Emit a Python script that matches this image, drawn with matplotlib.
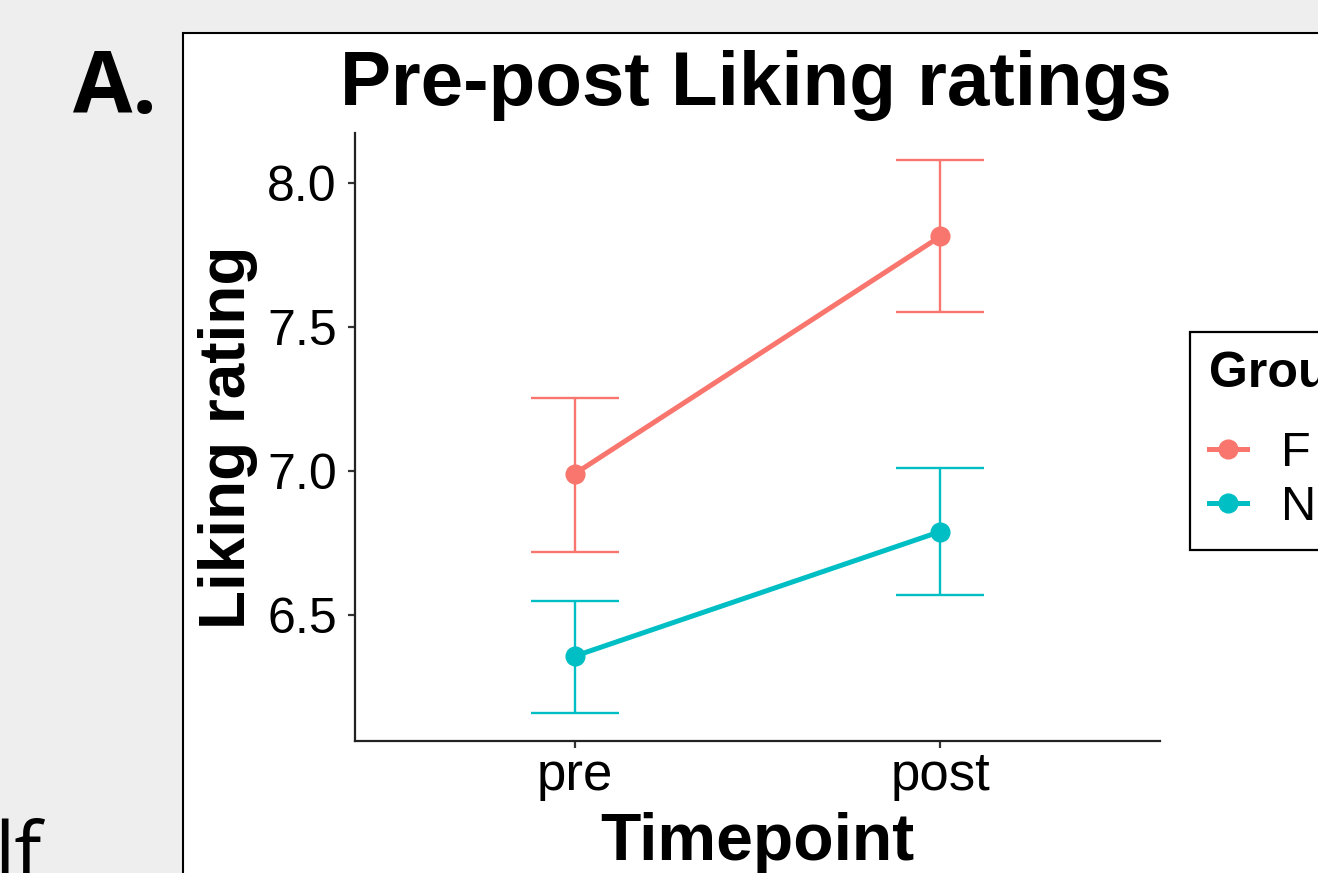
import matplotlib.pyplot as plt
from matplotlib.patches import Rectangle
from matplotlib.lines import Line2D

# data
timepoints = ['pre', 'post']
groups = ['F', 'N']
colors = ['#F8766D', '#00BFC4']
f_mean = [6.99, 7.815]
f_lower = [6.72, 7.552]
f_upper = [7.253, 8.08]
n_mean = [6.357, 6.79]
n_lower = [6.16, 6.57]
n_upper = [6.549, 7.01]

W, H = 1318, 873
fig = plt.figure(figsize=(W / 100, H / 100), dpi=100)
fig.patch.set_facecolor('#eeeeee')

# white slide panel behind the plot
fig.patches.append(Rectangle((183 / W, -0.2), 1.0, 1 - 33 / H + 0.2,
                             transform=fig.transFigure, facecolor='white',
                             edgecolor='black', linewidth=1.5, zorder=-5))

ax = fig.add_axes([355 / W, 1 - 741 / H, (1160 - 355) / W, (741 - 133) / H])
ax.set_facecolor('none')

x = list(range(1, len(timepoints) + 1))
series = [(f_mean, f_lower, f_upper), (n_mean, n_lower, n_upper)]
for (m, lo, hi), c in zip(series, colors):
    yerr = [[a - b for a, b in zip(m, lo)], [b - a for a, b in zip(m, hi)]]
    ax.errorbar(x, m, yerr=yerr, fmt='none', ecolor=c, elinewidth=1.7,
                capsize=32, capthick=1.7, zorder=2)
    ax.plot(x, m, color=c, lw=3.6, zorder=3)
    ax.plot(x, m, 'o', color=c, markersize=13.5, zorder=4)

ax.set_xlim(0.4, 2.6)
ax.set_ylim(6.0625, 8.174)
ax.set_xticks(x)
ax.set_xticklabels(timepoints)
ax.set_yticks([6.5, 7.0, 7.5, 8.0])
ax.set_yticklabels(['6.5', '7.0', '7.5', '8.0'])
for s in ['top', 'right']:
    ax.spines[s].set_visible(False)
for s in ['left', 'bottom']:
    ax.spines[s].set_linewidth(1.6)
    ax.spines[s].set_color('#222222')
ax.tick_params(axis='both', length=5, width=1.6, color='#333333',
               labelcolor='black')
ax.tick_params(axis='y', pad=8, labelsize=36)
ax.tick_params(axis='x', pad=2, labelsize=38)
for lab in ax.get_xticklabels() + ax.get_yticklabels():
    lab.set_fontfamily('Liberation Sans')

fig.text(756 / W, 1 - 105 / H, 'Pre-post Liking ratings', ha='center',
         va='baseline', fontsize=55, fontweight='bold', family='Liberation Sans')
fig.text(228 / W, 1 - 437 / H, 'Liking rating', ha='center', va='center',
         rotation=90, fontsize=46, fontweight='bold', family='Liberation Sans')
fig.text(757 / W, 1 - 860 / H, 'Timepoint', ha='center', va='baseline',
         fontsize=47.5, fontweight='bold', family='Liberation Sans')
fig.text(73 / W, 1 - 113 / H, 'A.', ha='left', va='baseline',
         fontsize=62, fontweight='bold', family='Open Sans')
fig.text(-6 / W, 1 - 880 / H, 'lf', ha='left', va='baseline',
         fontsize=58, family='Open Sans')

handles = [Line2D([0], [0], color=c, lw=3.6, marker='o', markersize=13.5)
           for c in colors]
leg = fig.legend(handles, groups, title='Group', loc='upper left',
                 bbox_to_anchor=(1190 / W, 1 - 332 / H), borderaxespad=0,
                 frameon=True, fancybox=False, framealpha=1,
                 edgecolor='black', prop={'family': 'Liberation Sans', 'size': 35},
                 title_fontproperties={'family': 'Liberation Sans', 'size': 36,
                                       'weight': 'bold'},
                 handlelength=0.78, handletextpad=0.7, labelspacing=0.2)
leg.get_frame().set_linewidth(1.6)
leg._legend_box.align = 'left'
leg._legend_box.sep = 24

fig.savefig('out.png', dpi=100)
